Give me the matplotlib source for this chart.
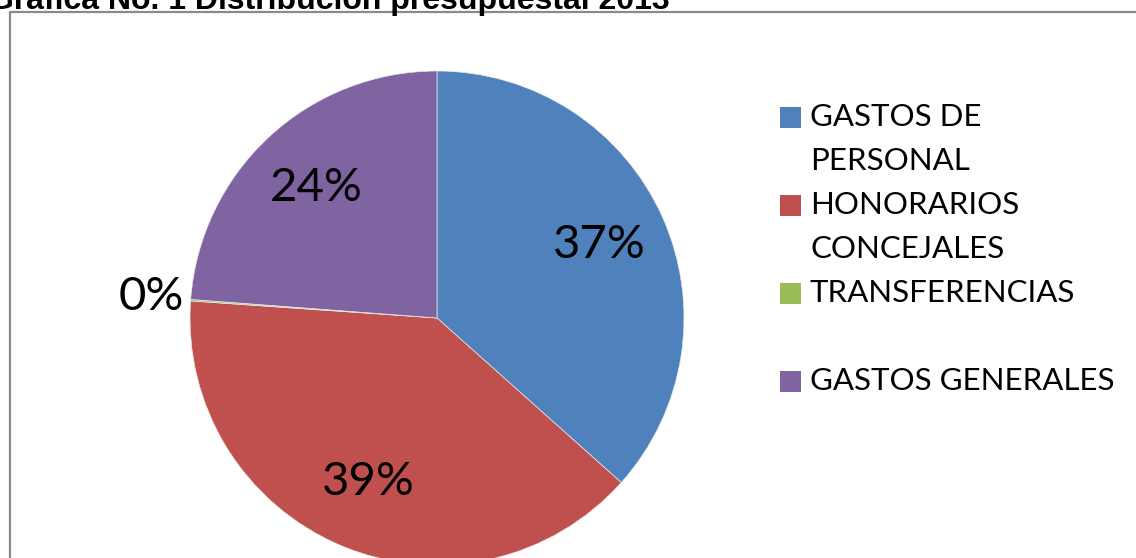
import numpy as np
import matplotlib.pyplot as plt
from matplotlib.patches import Rectangle

# budget shares (percent)
categorias = ['GASTOS DE\nPERSONAL', 'HONORARIOS\nCONCEJALES', 'TRANSFERENCIAS\n', 'GASTOS GENERALES']
valores = [36.6, 39.5, 0.1, 23.8]
etiquetas = ['37%', '39%', '0%', '24%']
colores = ['#4f81bd', '#c0504d', '#9bbb59', '#8064a2']
titulo = 'Gráfica No. 1 Distribución presupuestal 2013'

W, H = 1136, 558
fig = plt.figure(figsize=(W / 100, H / 100), dpi=100)
fig.patch.set_facecolor('white')

# axes spanning the figure, 1 data unit = 247 px, pie center at (437, 318) px from top-left
r_px = 247.0
cx, cy = 437.0, 318.0
ax = fig.add_axes([0, 0, 1, 1])

wedges, _ = ax.pie(valores, colors=colores, startangle=90, counterclock=False,
                   radius=1.0, wedgeprops=dict(linewidth=0.5, edgecolor='#e8e8e8'))
ax.set_aspect('auto')
ax.set_xlim(-cx / r_px, (W - cx) / r_px)
ax.set_ylim(-(H - cy) / r_px, cy / r_px)
ax.axis('off')

lbl_font = ['Lato', 'DejaVu Sans']
for w, lab, v in zip(wedges, etiquetas, valores):
    ang = np.deg2rad((w.theta1 + w.theta2) / 2)
    d = 0.72 if v > 1 else 1.16
    ax.text(d * np.cos(ang), d * np.sin(ang), lab, ha='center', va='center',
            fontsize=34, family=lbl_font, color='black')

# outer frame of the chart area
fig.add_artist(Rectangle((10 / W, -0.1), 1.2, (H - 12) / H + 0.1, transform=fig.transFigure,
                         fill=False, edgecolor='#8a8a8a', linewidth=1.6))

# title, partly cut by the top edge
fig.text(670 / W, 1 - 9 / H, titulo, ha='right', va='baseline', fontsize=23,
         fontweight='bold', family=['Liberation Sans', 'DejaVu Sans'])

# legend drawn by hand: square at first line, wrapped labels
line_h = 44
y0 = 117
row = 0
for cat, col in zip(categorias, colores):
    yc = y0 + row * line_h
    fig.add_artist(Rectangle((780 / W, 1 - (yc + 10.5) / H), 21 / W, 21 / H,
                             transform=fig.transFigure, facecolor=col, edgecolor='none'))
    lines = cat.split('\n')
    for k, ln in enumerate(lines):
        fig.text(810 / W, 1 - (yc + k * line_h) / H, ln, ha='left', va='center',
                 fontsize=22.5, family=lbl_font, color='black')
    row += len(lines)

fig.savefig('out.png', dpi=100)
